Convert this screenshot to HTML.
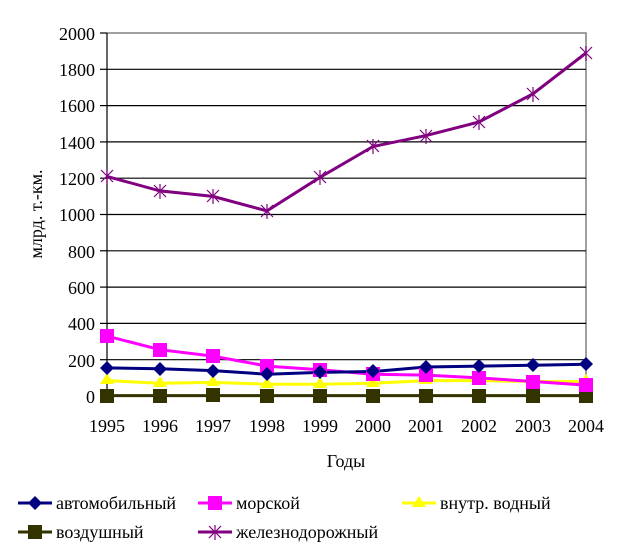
<!DOCTYPE html>
<html><head><meta charset="utf-8"><style>body{margin:0;background:#fff}</style></head><body>
<svg width="623" height="555" xmlns="http://www.w3.org/2000/svg" font-family="Liberation Serif, serif" font-size="18">
<rect width="623" height="555" fill="#fff"/>
<polyline points="107,33 586,33 586,396" fill="none" stroke="#808080" stroke-width="1.5"/>
<g stroke="#000" stroke-width="1.2">
<line x1="107" y1="69.3" x2="586" y2="69.3"/><line x1="107" y1="105.6" x2="586" y2="105.6"/>
<line x1="107" y1="141.9" x2="586" y2="141.9"/><line x1="107" y1="178.2" x2="586" y2="178.2"/>
<line x1="107" y1="214.5" x2="586" y2="214.5"/><line x1="107" y1="250.8" x2="586" y2="250.8"/>
<line x1="107" y1="287.1" x2="586" y2="287.1"/><line x1="107" y1="323.4" x2="586" y2="323.4"/>
<line x1="107" y1="359.7" x2="586" y2="359.7"/><line x1="107" y1="396" x2="586" y2="396"/>
<line x1="107" y1="33" x2="107" y2="396"/>
<line x1="100" y1="33" x2="107" y2="33"/><line x1="100" y1="69.3" x2="107" y2="69.3"/><line x1="100" y1="105.6" x2="107" y2="105.6"/><line x1="100" y1="141.9" x2="107" y2="141.9"/><line x1="100" y1="178.2" x2="107" y2="178.2"/><line x1="100" y1="214.5" x2="107" y2="214.5"/><line x1="100" y1="250.8" x2="107" y2="250.8"/><line x1="100" y1="287.1" x2="107" y2="287.1"/><line x1="100" y1="323.4" x2="107" y2="323.4"/><line x1="100" y1="359.7" x2="107" y2="359.7"/><line x1="100" y1="396" x2="107" y2="396"/>
</g>
<g text-anchor="end">
<text x="95" y="40">2000</text><text x="95" y="76">1800</text><text x="95" y="112">1600</text><text x="95" y="149">1400</text><text x="95" y="185">1200</text><text x="95" y="221">1000</text><text x="95" y="258">800</text><text x="95" y="294">600</text><text x="95" y="330">400</text><text x="95" y="367">200</text><text x="95" y="403">0</text>
</g>
<g text-anchor="middle">
<text x="107" y="432">1995</text><text x="160" y="432">1996</text><text x="213" y="432">1997</text><text x="267" y="432">1998</text><text x="320" y="432">1999</text><text x="373" y="432">2000</text><text x="426" y="432">2001</text><text x="479" y="432">2002</text><text x="533" y="432">2003</text><text x="586" y="432">2004</text>
<text x="346" y="467">Годы</text>
<text transform="translate(42,214) rotate(-90)">млрд. т.-км.</text>
</g>
<polyline fill="none" stroke="#ffff00" stroke-width="3" points="107,380.6 160,383.3 213,382.4 267,384.2 320,384.2 373,383.3 426,380.6 479,380.6 533,381.5 586,381.5"/>
<polyline fill="none" stroke="#ff00ff" stroke-width="3" points="107,336.1 160,349.7 213,356.1 267,366.1 320,369.7 373,374.2 426,375.1 479,377.9 533,381.5 586,385.1"/>
<polyline fill="none" stroke="#000080" stroke-width="3" points="107,367.9 160,368.8 213,370.6 267,374.2 320,372.4 373,371.5 426,367 479,366.1 533,365.2 586,364.3"/>
<polyline fill="none" stroke="#333300" stroke-width="3" points="107,395.6 586,395.6"/>
<polyline fill="none" stroke="#800080" stroke-width="3" points="107,176.4 160,190.9 213,196.4 267,210.9 320,177.3 373,146.5 426,135.6 479,122 533,93.8 586,53"/>
<g fill="#ffff00">
<path d="M107,373l7,11h-14z M160,376l7,11h-14z M213,375l7,11h-14z M267,377l7,11h-14z M320,377l7,11h-14z M373,376l7,11h-14z M426,373l7,11h-14z M479,373l7,11h-14z M533,374l7,11h-14z M586,374l7,11h-14z"/>
</g>
<g fill="#333300">
<rect x="100" y="389" width="14" height="14"/><rect x="153" y="389" width="14" height="14"/><rect x="206" y="388" width="14" height="14"/><rect x="260" y="389" width="14" height="14"/><rect x="313" y="389" width="14" height="14"/><rect x="366" y="389" width="14" height="14"/><rect x="419" y="389" width="14" height="14"/><rect x="472" y="389" width="14" height="14"/><rect x="526" y="389" width="14" height="14"/><rect x="579" y="389" width="14" height="14"/>
</g>
<g fill="#ff00ff">
<rect x="100" y="329" width="14" height="14"/><rect x="153" y="343" width="14" height="14"/><rect x="206" y="349" width="14" height="14"/><rect x="260" y="359" width="14" height="14"/><rect x="313" y="363" width="14" height="14"/><rect x="366" y="367" width="14" height="14"/><rect x="419" y="368" width="14" height="14"/><rect x="472" y="371" width="14" height="14"/><rect x="526" y="375" width="14" height="14"/><rect x="579" y="378" width="14" height="14"/>
</g>
<g fill="#000080">
<path d="M107,361l7,7-7,7-7-7z M160,362l7,7-7,7-7-7z M213,364l7,7-7,7-7-7z M267,367l7,7-7,7-7-7z M320,365l7,7-7,7-7-7z M373,364l7,7-7,7-7-7z M426,360l7,7-7,7-7-7z M479,359l7,7-7,7-7-7z M533,358l7,7-7,7-7-7z M586,357l7,7-7,7-7-7z"/>
</g>
<g stroke="#800080" stroke-width="1.2">
<path d="M101,170l12,12M101,182l12-12M107,169v15 M154,185l12,12M154,197l12-12M160,184v15 M207,190l12,12M207,202l12-12M213,189v15 M261,205l12,12M261,217l12-12M267,204v15 M314,171l12,12M314,183l12-12M320,170v15 M367,140l12,12M367,152l12-12M373,139v15 M420,130l12,12M420,142l12-12M426,129v15 M473,116l12,12M473,128l12-12M479,115v15 M527,88l12,12M527,100l12-12M533,87v15 M580,47l12,12M580,59l12-12M586,46v15"/>
</g>
<line x1="18" y1="503" x2="52" y2="503" stroke="#000080" stroke-width="3"/><path d="M35,496l7,7-7,7-7-7z" fill="#000080"/>
<text x="56" y="509">автомобильный</text>
<line x1="198" y1="503" x2="232" y2="503" stroke="#ff00ff" stroke-width="3"/><rect x="208" y="496" width="14" height="14" fill="#ff00ff"/>
<text x="236" y="509">морской</text>
<line x1="402" y1="503" x2="436" y2="503" stroke="#ffff00" stroke-width="3"/><path d="M419,496l7,11h-14z" fill="#ffff00"/>
<text x="440" y="509">внутр. водный</text>
<line x1="18" y1="532" x2="52" y2="532" stroke="#333300" stroke-width="3"/><rect x="28" y="525" width="14" height="14" fill="#333300"/>
<text x="56" y="538">воздушный</text>
<line x1="198" y1="532" x2="232" y2="532" stroke="#800080" stroke-width="3"/>
<path d="M209,526l12,12M209,538l12-12M215,525v15" stroke="#800080" stroke-width="1.2"/>
<text x="236" y="538">железнодорожный</text>
</svg>
</body></html>
